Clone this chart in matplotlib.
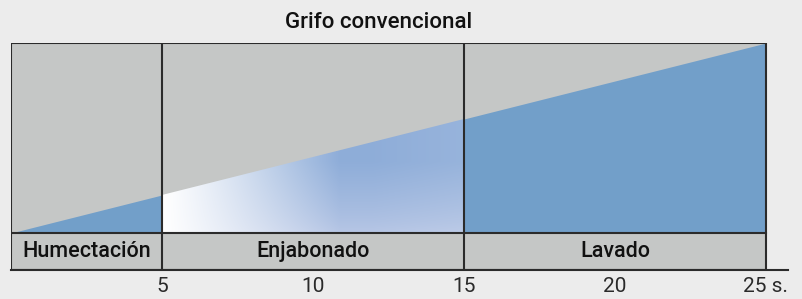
import numpy as np
import matplotlib
matplotlib.use("Agg")
import matplotlib.pyplot as plt
from matplotlib.patches import Polygon

# data
phases = ["Humectación", "Enjabonado", "Lavado"]
phase_edges = [0, 5, 15, 25]
tick_vals = [5, 10, 15, 20, 25]
tick_labels = ["5", "10", "15", "20", "25 s."]
# water used grows linearly with time (relative, 0..1)
flow_t = [0, 25]
flow_v = [0, 1]
title = "Grifo convencional"

bg = "#ececec"
gray = "#c5c7c6"
blue = "#729fc9"
line_c = "#2b2b2b"
band_h = 0.195

fig = plt.figure(figsize=(8.03, 2.99), dpi=100)
fig.patch.set_facecolor(bg)
ax = fig.add_axes([11 / 803, 29 / 299, 777 / 803, 227 / 299])
ax.set_facecolor(bg)
ax.set_xlim(0, 25.73)
ax.set_ylim(-band_h, 1)

def level(x):
    return np.interp(x, flow_t, flow_v)

# grey background of chart and label band
ax.fill_between([phase_edges[0], phase_edges[-1]], -band_h, 1, color=gray, lw=0, zorder=0)

# blue water in first and last phase
for a, b in [(phase_edges[0], phase_edges[1]), (phase_edges[2], phase_edges[3])]:
    xs = np.linspace(a, b, 50)
    ax.fill_between(xs, 0, level(xs), color=blue, lw=0, zorder=1)

# soapy gradient in middle phase
a, b = phase_edges[1], phase_edges[2]
nx, ny = 200, 100
tx = np.linspace(0, 1, nx)[None, :]
ty = np.linspace(0, 1, ny)[:, None]  # 0 bottom, 1 top
s = np.clip(tx * 1.7, 0, 1) ** 1.1 * np.ones((ny, 1))
top_c = np.array([0.56, 0.68, 0.85])
bot_c = np.array([0.72, 0.78, 0.90])
vmix = (np.clip(ty * 1.6, 0, 1) ** 0.8) * np.ones((1, nx))
col = bot_c + (top_c - bot_c) * vmix[..., None]
# right end a bit lighter
col = col + (np.clip(tx - 0.7, 0, 1) * 0.25 * np.ones((ny, 1)))[..., None] * (1 - col)
img = (1 - s[..., None]) + col * s[..., None]
im = ax.imshow(img, extent=(a, b, 0, level(b)), origin="lower", aspect="auto",
               interpolation="bilinear", zorder=1)
clip = Polygon([(a, 0), (b, 0), (b, level(b)), (a, level(a))], transform=ax.transData)
im.set_clip_path(clip)

# frame lines
lw = 1.5
ax.plot([0, 25, 25, 0, 0], [1, 1, -band_h, -band_h, 1], color=line_c, lw=lw, zorder=3)
ax.plot([0, 25], [0, 0], color=line_c, lw=lw, zorder=3)
for e in phase_edges[1:-1]:
    ax.plot([e, e], [-band_h, 1], color=line_c, lw=lw, zorder=3)

# phase labels
for i, name in enumerate(phases):
    ax.text((phase_edges[i] + phase_edges[i + 1]) / 2, -band_h / 2, name,
            ha="center", va="center", fontsize=15.5, family="Roboto",
            fontweight="medium", color="#111111")

for sp in ["top", "left", "right"]:
    ax.spines[sp].set_visible(False)
ax.spines["bottom"].set_color(line_c)
ax.spines["bottom"].set_linewidth(lw)
ax.set_yticks([])
ax.set_xticks(tick_vals)
ax.set_xticklabels(tick_labels, family="Roboto", fontweight="normal", fontsize=15, color="#2a2a2a")
ax.tick_params(axis="x", length=0, pad=5)

fig.text(379 / 803, 1 - 22 / 299, title, ha="center", va="center", fontsize=16,
         family="Roboto", fontweight="medium", color="#111111")

fig.savefig("out.png", dpi=100, facecolor=bg)
